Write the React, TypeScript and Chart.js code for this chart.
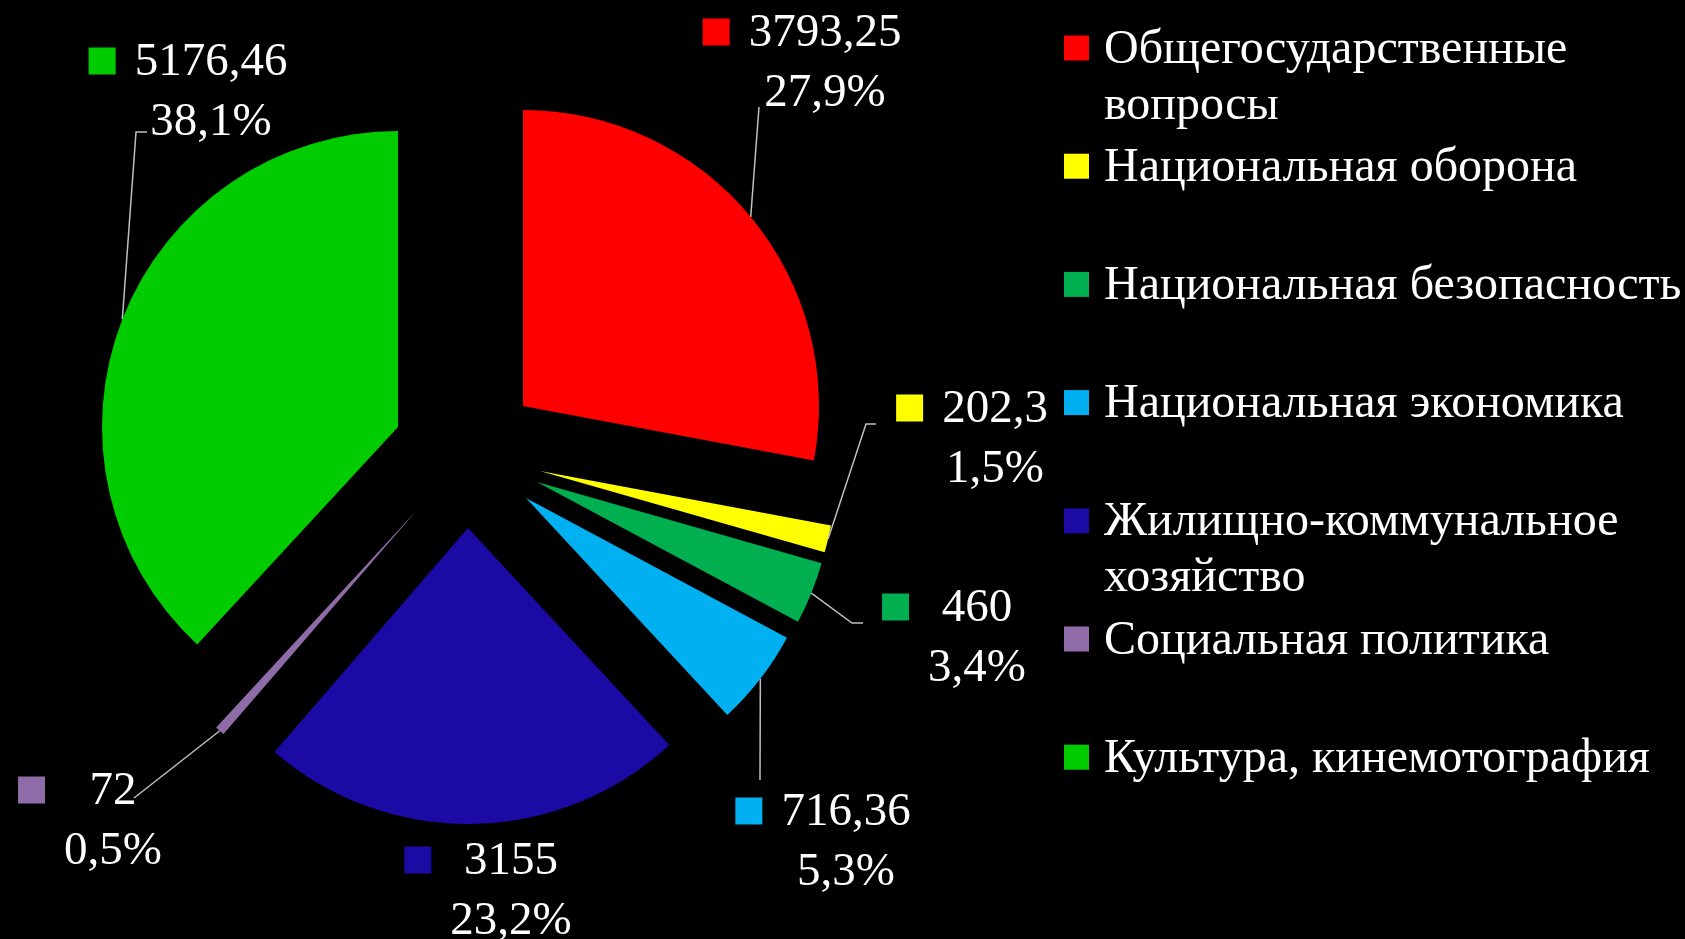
import React, { useEffect, useRef } from 'react';
import { Chart, registerables } from 'chart.js';

Chart.register(...registerables);

// ---------- data ----------
const categories = [
  'Общегосударственные вопросы',
  'Национальная оборона',
  'Национальная безопасность',
  'Национальная экономика',
  'Жилищно-коммунальное хозяйство',
  'Социальная политика',
  'Культура, кинемотография',
];
const legendLines = [
  ['Общегосударственные', 'вопросы'],
  ['Национальная оборона'],
  ['Национальная безопасность'],
  ['Национальная экономика'],
  ['Жилищно-коммунальное', 'хозяйство'],
  ['Социальная политика'],
  ['Культура, кинемотография'],
];
const values = [3793.25, 202.3, 460, 716.36, 3155, 72, 5176.46];

// ---------- styles / layout ----------
const colors = ['#FF0000', '#FFFF00', '#00B050', '#00B0F0', '#1C0AA5', '#8F6CA8', '#00CC00'];
const W = 1685;
const H = 939;
const PIE_RADIUS = 296;
const PIE_CX = 470;
const PIE_CY = 445;
// explosion translation of each slice (px)
const EXPLODE = [[53, -39], [70, 26], [67, 37], [56, 53], [-2, 83], [-53, 65], [-72, -18]];
// centre of the data-label text block (first line)
const LABEL_CENTER = [[825, 32], [995, 408], [977, 607], [846, 811], [511, 860], [113, 790], [211, 61]];
// leader line points after the slice anchor
const LEADERS: number[][][] = [
  [[759, 107]],
  [[866, 424], [876, 424]],
  [[852, 623], [863, 623]],
  [[760, 780]],
  [],
  [[134, 798]],
  [[136, 132], [147, 132]],
];
const LABEL_FONT = '47px "Liberation Serif", "Times New Roman", serif';
const LABEL_LINE_GAP = 60;
const LABEL_BOX = 27;
const LEGEND_FONT = '48px "Liberation Serif", "Times New Roman", serif';
const LEGEND_BOX_X = 1064;
const LEGEND_TEXT_X = 1104;
const LEGEND_FIRST_Y = 48;
const LEGEND_STEP = 118.2;
const LEGEND_LINE_H = 56;
const LEGEND_BOX = 25;

const fmtValue = (v: number) => String(v).replace('.', ',');

const explodePlugin = {
  id: 'explodeSlices',
  afterDatasetsUpdate(chart: any) {
    const meta = chart.getDatasetMeta(0);
    meta.data.forEach((arc: any, i: number) => {
      if (arc.__exploded) return;
      const proto = Object.getPrototypeOf(arc);
      arc.draw = function (ctx: CanvasRenderingContext2D) {
        ctx.save();
        ctx.translate(EXPLODE[i][0], EXPLODE[i][1]);
        proto.draw.call(this, ctx);
        ctx.restore();
      };
      arc.__exploded = true;
    });
  },
};

const labelPlugin = {
  id: 'sliceLabels',
  afterDatasetsDraw(chart: any) {
    const ctx: CanvasRenderingContext2D = chart.ctx;
    const meta = chart.getDatasetMeta(0);
    const ds = chart.data.datasets[0];
    const total = (ds.data as number[]).reduce((a, b) => a + b, 0);
    ctx.save();
    // leader lines
    ctx.strokeStyle = '#BFBFBF';
    ctx.lineWidth = 1.5;
    meta.data.forEach((arc: any, i: number) => {
      const pts = LEADERS[i];
      if (!pts.length) return;
      const mid = (arc.startAngle + arc.endAngle) / 2;
      const sx = arc.x + EXPLODE[i][0] + Math.cos(mid) * arc.outerRadius;
      const sy = arc.y + EXPLODE[i][1] + Math.sin(mid) * arc.outerRadius;
      ctx.beginPath();
      ctx.moveTo(sx, sy);
      pts.forEach((p) => ctx.lineTo(p[0], p[1]));
      ctx.stroke();
    });
    // text
    ctx.font = LABEL_FONT;
    ctx.textBaseline = 'middle';
    ctx.textAlign = 'center';
    (ds.data as number[]).forEach((v, i) => {
      const [cx, cy] = LABEL_CENTER[i];
      const t1 = fmtValue(v);
      const t2 = ((v / total) * 100).toFixed(1).replace('.', ',') + '%';
      const w = Math.max(ctx.measureText(t1).width, ctx.measureText(t2).width);
      ctx.fillStyle = '#FFFFFF';
      ctx.fillText(t1, cx, cy + 2);
      ctx.fillText(t2, cx, cy + LABEL_LINE_GAP + 2);
      ctx.fillStyle = colors[i];
      ctx.fillRect(cx - w / 2 - 19 - LABEL_BOX, cy - LABEL_BOX / 2, LABEL_BOX, LABEL_BOX);
    });
    // legend
    ctx.font = LEGEND_FONT;
    ctx.textAlign = 'left';
    legendLines.forEach((lines, i) => {
      const y = LEGEND_FIRST_Y + i * LEGEND_STEP;
      ctx.fillStyle = colors[i];
      ctx.fillRect(LEGEND_BOX_X, y - LEGEND_BOX / 2, LEGEND_BOX, LEGEND_BOX);
      ctx.fillStyle = '#FFFFFF';
      lines.forEach((ln, k) => ctx.fillText(ln, LEGEND_TEXT_X, y + 2 + k * LEGEND_LINE_H));
    });
    ctx.restore();
  },
};

export default function App() {
  const ref = useRef<HTMLCanvasElement | null>(null);
  useEffect(() => {
    if (!ref.current) return;
    const chart = new Chart(ref.current, {
      type: 'pie',
      data: {
        labels: categories,
        datasets: [
          {
            data: values,
            backgroundColor: colors,
            borderWidth: 0,
          },
        ],
      },
      options: {
        responsive: false,
        animation: false,
        devicePixelRatio: 1,
        radius: PIE_RADIUS,
        layout: {
          padding: { left: 0, top: 0, right: W - 2 * PIE_CX, bottom: H - 2 * PIE_CY },
        },
        plugins: {
          legend: { display: false },
          tooltip: { enabled: false },
        },
      },
      plugins: [explodePlugin, labelPlugin],
    });
    return () => chart.destroy();
  }, []);
  return (
    <div style={{ position: 'fixed', left: 0, top: 0, width: W, height: H, background: '#000' }}>
      <canvas ref={ref} width={W} height={H} style={{ display: 'block', width: W, height: H }} />
    </div>
  );
}
